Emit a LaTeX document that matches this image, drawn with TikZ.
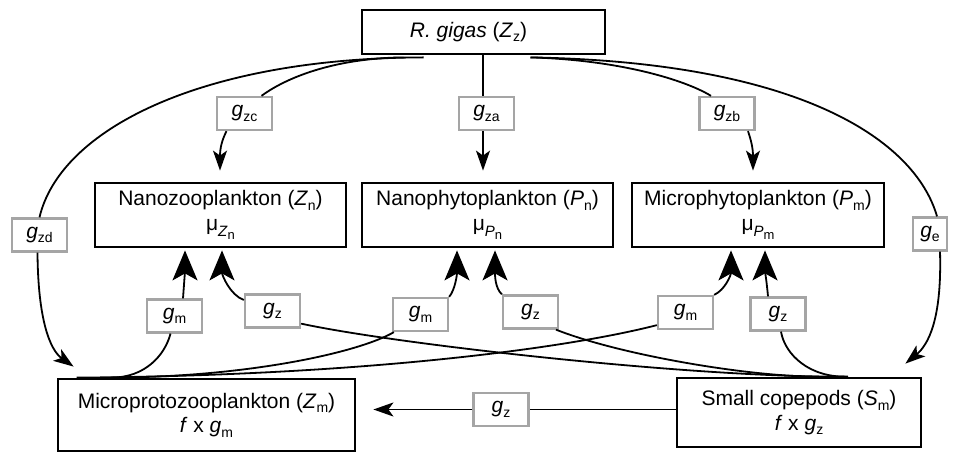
\documentclass[tikz,border=0pt]{standalone}
\usepackage{fontspec}
\setmainfont{Liberation Sans}
\usetikzlibrary{arrows.meta,calc}
\newcommand{\sbs}[1]{\raisebox{-0.22em}{\fontsize{14bp}{14bp}\selectfont #1}}
\newcommand{\musub}[2]{μ\raisebox{-0.3em}{\fontsize{15bp}{15bp}\selectfont\textit{#1}\raisebox{-0.2em}{\fontsize{13bp}{13bp}\selectfont #2}}}
\definecolor{lblgray}{RGB}{165,165,165}
\tikzset{
  pool/.style={draw=black, line width=2.8bp, inner sep=0pt, align=center,
    font=\fontsize{21bp}{24.5bp}\selectfont},
  lbl/.style={draw=lblgray, line width=2.3bp, fill=white, inner sep=0pt,
    minimum width=55bp, minimum height=33bp, font=\fontsize{21bp}{24bp}\selectfont},
  conn/.style={line width=1.8bp, black},
  arrU/.style={conn, -{Stealth[length=20bp, width=14bp, inset=5bp]}},
  arrL/.style={conn, -{Stealth[length=30bp, width=25bp, inset=7bp]}},
}
\begin{document}
\begin{tikzpicture}[x=1bp, y=-1bp]
\useasboundingbox (0,0) rectangle (958,452);
% pools
\node[pool, minimum width=243bp, minimum height=44bp] (Rg) at (483.5,32) {\textit{R. gigas} (\textit{Z}\sbs{z})\hspace*{30bp}};
\node[pool, minimum width=251bp, minimum height=64bp] (Zn) at (220.5,215) {Nanozooplankton (\textit{Z}\sbs{n})\\\musub{Z}{n}};
\node[pool, minimum width=251bp, minimum height=64bp] (Pn) at (487.5,215) {Nanophytoplankton (\textit{P}\sbs{n})\\\musub{P}{n}};
\node[pool, minimum width=252bp, minimum height=64bp] (Pm) at (758,215) {Microphytoplankton (\textit{P}\sbs{m})\\\musub{P}{m}};
\node[pool, minimum width=297bp, minimum height=72bp] (Zm) at (206.5,415) {Microprotozooplankton (\textit{Z}\sbs{m})\\\textit{f} x \textit{g}\sbs{m}};
\node[pool, minimum width=244bp, minimum height=69bp] (Sm) at (799,412.5) {Small copepods (\textit{S}\sbs{m})\\\textit{f} x \textit{g}\sbs{z}};
% labels
\node[lbl] (gzc) at (244.5,113.5) {\textit{g}\sbs{zc}};
\node[lbl] (gza) at (486.5,113.5) {\textit{g}\sbs{za}};
\node[lbl] (gzb) at (727,113.5) {\textit{g}\sbs{zb}};
\node[lbl] (gzd) at (39.5,235) {\textit{g}\sbs{zd}};
\node[lbl, minimum width=34bp] (ge) at (930,234) {\textit{g}\sbs{e}};
\node[lbl] (gm1) at (174.5,316) {\textit{g}\sbs{m}};
\node[lbl] (gz1) at (272.5,311) {\textit{g}\sbs{z}};
\node[lbl] (gm2) at (420.5,314.5) {\textit{g}\sbs{m}};
\node[lbl] (gz2) at (530.5,312) {\textit{g}\sbs{z}};
\node[lbl] (gm3) at (685.5,312.5) {\textit{g}\sbs{m}};
\node[lbl] (gz3) at (778,314) {\textit{g}\sbs{z}};
\node[lbl] (gz4) at (501,409.5) {\textit{g}\sbs{z}};
% upper connectors
\draw[conn] ($(Rg.south)+(-60,2)$) .. controls (200,58) and (60,130) .. ($(gzd.north)+(0,0)$);
\draw[conn] ($(Rg.south)+(-80,2)$) .. controls (340,58) and (290,75) .. ($(gzc.north)+(17,0)$);
\draw[conn] ($(Rg.south)+(-0.5,0)$) -- ($(gza.north)+(-3.5,0)$);
\draw[conn] ($(Rg.south)+(47,2)$) .. controls (620,60) and (685,80) .. ($(gzb.north)+(-16,0)$);
\draw[conn] ($(Rg.south)+(47,2)$) .. controls (800,62) and (915,140) .. ($(ge.north)+(7,0)$);
\draw[arrU] ($(gzc.south)+(-18,0)$) .. controls (222,140) and (220,148) .. ($(Zn.north)+(-0.5,-11)$);
\draw[arrU] ($(gza.south)+(-3.5,0)$) -- ($(Pn.north)+(-4.5,-11)$);
\draw[arrU] ($(gzb.south)+(21,0)$) .. controls (751,140) and (753,148) .. ($(Pm.north)+(-5,-11)$);
\draw[arrU] ($(gzd.south)+(-2,0)$) .. controls (38,320) and (50,350) .. ($(Zm.north west)+(17,-11)$);
\draw[arrU] ($(ge.south)+(10,0)$) .. controls (942,320) and (928,345) .. ($(Sm.north east)+(-17,-13)$);
% lower connectors
\draw[conn] ($(Zm.north west)+(54,0)$) .. controls (145,378) and (165,355) .. ($(gm1.south)+(-4,0)$);
\draw[arrL] ($(gm1.north)+(8.5,0)$) .. controls (184,285) and (185,270) .. ($(Zn.south)+(-35.5,2)$);
\draw[conn] ($(Zm.north west)+(56,0)$) .. controls (250,377) and (360,352) .. ($(gm2.south west)+(2,0)$);
\draw[arrL] ($(gm2.north east)+(0,0)$) .. controls (455,290) and (457,275) .. ($(Pn.south)+(-30.5,2)$);
\draw[conn] ($(Zm.north west)+(20,0)$) .. controls (350,376) and (560,350) .. ($(gm3.south west)+(0,-5)$);
\draw[arrL] ($(gm3.north east)+(0,0)$) .. controls (725,290) and (731,275) .. ($(Pm.south)+(-27,2)$);
\draw[conn] ($(Sm.north)+(46,0)$) .. controls (700,378) and (400,345) .. ($(gz1.south east)+(0,-5)$);
\draw[arrL] ($(gz1.west)+(0,-11)$) .. controls (230,295) and (222,275) .. ($(Zn.south)+(1.5,2)$);
\draw[conn] ($(Sm.north)+(20,0)$) .. controls (750,377) and (620,355) .. ($(gz2.south)+(25.5,0)$);
\draw[arrL] ($(gz2.north west)+(0,0)$) .. controls (495,288) and (495,275) .. ($(Pn.south)+(7.5,2)$);
\draw[conn] ($(Sm.north)+(49,0)$) .. controls (810,378) and (785,355) .. ($(gz3.south)+(3,0)$);
\draw[arrL] ($(gz3.north)+(-10,0)$) .. controls (767,285) and (765,270) .. ($(Pm.south)+(7,2)$);
\draw[conn] (Sm.west |- gz4.east) -- (gz4.east);
\draw[arrU] (gz4.west) -- ($(Zm.east |- gz4.west)+(17,0)$);
\end{tikzpicture}
\end{document}
